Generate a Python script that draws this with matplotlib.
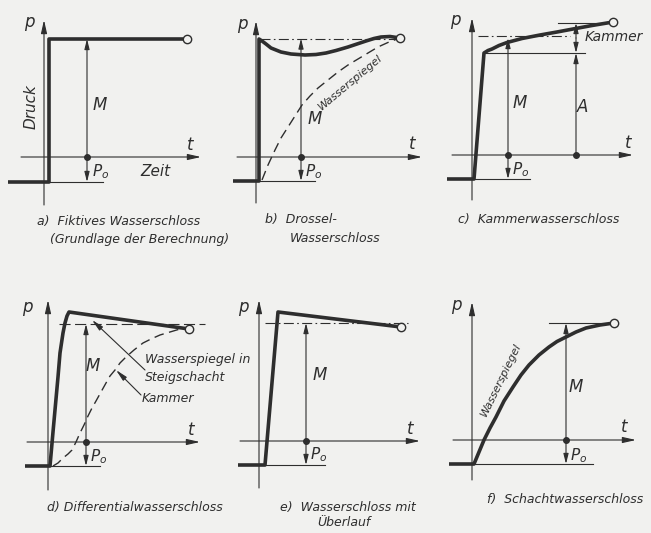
import matplotlib.pyplot as plt

# every panel uses its own data units: t to the right, p upwards,
# origin at the crossing of the axes, base level = -P0

# a) Fiktives Wasserschloss
a_t = [-36, 5, 5, 143]
a_p = [-25, -25, 118, 118]
a_M = 43

# b) Drossel-Wasserschloss
b_t = [-23, 3, 3, 6, 10, 15, 20, 25, 35, 49, 60, 70, 80, 92, 101, 110, 118, 125, 134, 144]
b_p = [-24, -24, 118, 116, 113, 109, 107, 105, 103, 102, 102.5, 104, 106.5, 110, 113, 116, 118.5, 120, 120.5, 119]
b_ws_t = [6, 12, 19, 25, 32, 39, 46, 54, 62, 72, 82, 92, 102, 112, 122, 133, 144]
b_ws_p = [-23, -8, 7, 19, 30, 41, 52, 61, 69, 77, 85, 92, 98, 104, 110, 115, 119]
b_M = 45
b_level = 118.5

# c) Kammerwasserschloss
c_t = [-25, 2, 12, 16, 20, 27, 35, 50, 68, 85, 101, 120, 141]
c_p = [-24, -24, 102, 104.5, 106, 109.5, 112.5, 116.5, 120, 123, 126, 129.5, 133]
c_M = 36
c_A = 104
c_chamber = [102, 119, 132]   # unten, Mitte, oben

# d) Differentialwasserschloss
d_t = [-23, 2, 5, 7, 10, 12, 15, 17, 19, 21, 141]
d_p = [-24, -24, 10, 32, 65, 89, 109, 119, 126, 130, 113]
d_ws_t = [5, 10, 15, 20, 24, 28, 32, 36, 40, 44, 48, 53, 58, 62, 67, 72, 78, 86, 95, 103, 112, 122, 132, 141]
d_ws_p = [-24, -21, -16, -12, -8, 0, 9, 17, 26, 34, 41, 50, 59, 66, 72, 79, 85, 92, 99, 103, 107, 110, 113, 113]
d_M = 38
d_level = 118

# e) Wasserschloss mit Ueberlauf
e_t = [-21, 6, 19, 142]
e_p = [-24, -24, 129, 114]
e_M = 47
e_level = 118

# f) Schachtwasserschloss
f_t = [-23, 2, 7, 12, 18, 24, 32, 41, 49, 57, 67, 77, 85, 94, 104, 114, 128, 142]
f_p = [-24, -24, -12, 0, 12, 23, 39, 53, 65, 75, 85, 93, 98.5, 103, 108, 112, 115, 117]
f_M = 94

INK = '#2e2e2e'
BG = '#f1f1ef'
W, H = 651, 533

plt.rcParams['font.family'] = 'DejaVu Sans'
plt.rcParams['font.style'] = 'italic'
plt.rcParams['mathtext.fontset'] = 'dejavusans'

fig = plt.figure(figsize=(W / 100, H / 100), dpi=100, facecolor=BG)


def panel(ox, oy):
    # 1 data unit = 1 pixel
    x0, x1, y0, y1 = -50, 180, -90, 150
    ax = fig.add_axes([(ox + x0) / W, (H - oy + y0) / H, (x1 - x0) / W, (y1 - y0) / H])
    ax.set_xlim(x0, x1)
    ax.set_ylim(y0, y1)
    ax.axis('off')
    return ax


def arrow(ax, start, end, lw=0.8, hl=0.8, hw=0.18):
    ax.annotate('', xy=end, xytext=start, annotation_clip=False,
                arrowprops=dict(arrowstyle='-|>,head_length=%g,head_width=%g' % (hl, hw),
                                lw=lw, color=INK, shrinkA=0, shrinkB=0))


def frame(ax, tl, tr, pb, pt, base, base_end, Mt, top, pl, tlab, p0lab, Mlab):
    arrow(ax, (tl, 0), (tr, 0))
    arrow(ax, (0, pb), (0, pt))
    ax.plot([0, base_end], [base, base], color=INK, lw=0.8)
    arrow(ax, (Mt, 0), (Mt, top), hl=0.6, hw=0.15)
    arrow(ax, (Mt, 0), (Mt, base), hl=0.6, hw=0.15)
    ax.plot(Mt, 0, 'o', color=INK, ms=4)
    ax.text(*pl, 'p', fontsize=12, color=INK, ha='center', va='center')
    ax.text(*tlab, 't', fontsize=12, color=INK, ha='center', va='center')
    ax.text(*p0lab, r'$P_o$', fontsize=11, color=INK, ha='left', va='center')
    ax.text(*Mlab, 'M', fontsize=12, color=INK, ha='center', va='center')


def thick(ax, t, p):
    ax.plot(t, p, color=INK, lw=2.6, solid_joinstyle='round', solid_capstyle='butt')


def end_circle(ax, t, p):
    ax.plot(t, p, 'o', ms=6, mfc=BG, mec=INK, mew=1.0, zorder=5)


def caption(ax, t, p, s):
    ax.text(t, p, s, fontsize=9, color=INK, ha='left', va='center')


# ---- a
ax = panel(44, 157)
frame(ax, -23, 157, -48, 137, -25, 59, a_M, 118, (-15, 135), (146, 12), (a_M + 5, -15), (56, 52))
thick(ax, a_t, a_p)
end_circle(ax, a_t[-1], a_p[-1])
ax.text(-13, 50, 'Druck', fontsize=11, color=INK, rotation=90, ha='center', va='center')
ax.text(111, -15, 'Zeit', fontsize=11, color=INK, ha='center', va='center')
caption(ax, -7, -65, 'a)  Fiktives Wasserschloss')
caption(ax, 6, -82, '(Grundlage der Berechnung)')

# ---- b
ax = panel(256, 157)
frame(ax, -19, 166, -46, 136, -24, 59, b_M, b_level, (-14, 133), (156, 13), (b_M + 4, -15), (59, 38))
ax.plot([4, 140], [b_level, b_level], color=INK, lw=0.8, ls=(0, (9, 3, 1.5, 3)))
ax.plot(b_ws_t, b_ws_p, color=INK, lw=1.0, ls=(0, (7, 4)))
thick(ax, b_t, b_p)
end_circle(ax, b_t[-1], b_p[-1])
ax.text(94, 75, 'Wasserspiegel', fontsize=8, color=INK, rotation=40, ha='center', va='center')
caption(ax, 9, -63, 'b)  Drossel-')
caption(ax, 34, -81, 'Wasserschloss')

# ---- c
ax = panel(472, 155)
frame(ax, -20, 161, -45, 137, -24, 58, c_M, 117, (-17, 135), (156, 12), (c_M + 4, -15), (48, 52))
ax.plot([12, 113], [c_chamber[0]] * 2, color=INK, lw=0.8)
ax.plot([6, 98], [c_chamber[1]] * 2, color=INK, lw=0.8, ls=(0, (9, 3, 1.5, 3)))
ax.plot([86, 140], [c_chamber[2]] * 2, color=INK, lw=0.8)
arrow(ax, (c_A, 0), (c_A, c_chamber[0]), hl=0.6, hw=0.15)
arrow(ax, (c_A, 117), (c_A, c_chamber[2]), hl=0.6, hw=0.15)
arrow(ax, (c_A, 117), (c_A, c_chamber[0]), hl=0.6, hw=0.15)
ax.plot(c_A, 0, 'o', color=INK, ms=4)
thick(ax, c_t, c_p)
end_circle(ax, c_t[-1], c_p[-1])
ax.text(111, 48, 'A', fontsize=12, color=INK, ha='center', va='center')
ax.text(113, 118, 'Kammer', fontsize=10, color=INK, ha='left', va='center')
caption(ax, -14, -64, 'c)  Kammerwasserschloss')

# ---- d
ax = panel(48, 442)
frame(ax, -21, 152, -48, 142, -24, 52, d_M, d_level, (-21, 135), (143, 12), (d_M + 4, -15), (45, 76))
ax.plot([11, 157], [d_level, d_level], color=INK, lw=0.8, ls=(0, (10, 4)))
ax.plot(d_ws_t, d_ws_p, color=INK, lw=1.0, ls=(0, (7, 4)))
thick(ax, d_t, d_p)
end_circle(ax, d_t[-1], d_p[-1])
arrow(ax, (97, 72), (44, 122), hl=0.7, hw=0.15)
arrow(ax, (93, 47), (68, 72), hl=0.7, hw=0.15)
ax.text(97, 82, 'Wasserspiegel in', fontsize=9, color=INK, ha='left', va='center')
ax.text(97, 64, 'Steigschacht', fontsize=9, color=INK, ha='left', va='center')
ax.text(94, 44, 'Kammer', fontsize=9, color=INK, ha='left', va='center')
caption(ax, -1, -66, 'd) Differentialwasserschloss')

# ---- e
ax = panel(259, 441)
frame(ax, -19, 161, -47, 141, -24, 66, e_M, e_level, (-16, 134), (151, 12), (e_M + 4, -14), (61, 66))
ax.plot([6, 149], [e_level, e_level], color=INK, lw=0.8, ls=(0, (9, 3, 1.5, 3)))
thick(ax, e_t, e_p)
end_circle(ax, e_t[-1], e_p[-1])
caption(ax, 21, -66, 'e)  Wasserschloss mit')
caption(ax, 58, -82, 'Überlauf')

# ---- f
ax = panel(472, 440)
frame(ax, -19, 164, -40, 138, -24, 121, f_M, f_p[-1], (-16, 135), (152, 13), (f_M + 4, -16), (104, 53))
ax.plot([77, 144], [f_p[-1]] * 2, color=INK, lw=0.8)
thick(ax, f_t, f_p)
end_circle(ax, f_t[-1], f_p[-1])
ax.text(29, 60, 'Wasserspiegel', fontsize=8, color=INK, rotation=64, ha='center', va='center')
caption(ax, 15, -59, 'f)  Schachtwasserschloss')

fig.savefig('out.png', dpi=100, facecolor=BG)
